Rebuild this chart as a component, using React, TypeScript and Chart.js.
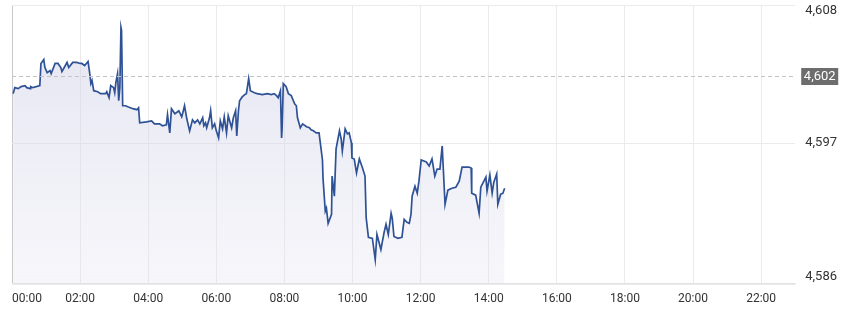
import React, { useEffect, useRef } from "react";
import { Chart, registerables } from "chart.js";

Chart.register(...registerables);

// Intraday index level, minutes after 00:00
const minutes = [
  2, 5, 11, 16, 23, 26, 32, 33, 37, 49,
  51, 56, 58, 62, 67, 69, 76, 81, 86, 88,
  93, 97, 100, 107, 114, 120, 123, 128, 134, 137,
  139, 141, 144, 151, 156, 165, 167, 171, 174, 179,
  181, 183, 186, 188, 190, 192, 193, 195, 200, 204,
  213, 220,
  223, 225, 237, 246, 251, 260, 265, 272, 274, 278,
  281, 287, 294, 299, 301, 304, 308, 313, 318, 322,
  327, 331, 336, 338, 341, 343, 348, 350, 353, 357,
  360, 364, 367, 371, 374, 378, 381, 387, 390, 394,
  396, 399, 401, 406, 410, 413, 417, 420, 427, 432,
  441, 450, 457, 462, 466, 469, 473, 475, 476, 478,
  483, 487, 492, 498, 501, 503, 508, 512, 519, 524,
  527, 531, 536, 541, 547, 548, 552, 554, 557, 563,
  564, 568, 571, 577, 580, 582, 587, 591, 594, 598,
  599, 603, 607, 612, 617, 622, 624, 628,
  635, 640, 643, 650, 656, 659, 663, 668, 670, 673,
  680, 687, 691, 696, 700, 703, 705, 710, 714, 717,
  721, 730, 735, 740, 745, 749, 754, 758, 763, 768,
  775, 782, 788, 793, 805, 809, 810, 817, 823, 826,
  835, 837, 842, 846, 849, 854, 856, 861, 865, 868,
];

const prices = [
  4600.87, 4601.34, 4601.26, 4601.42, 4601.5, 4601.34, 4601.26, 4601.42, 4601.34, 4601.5,
  4603.25, 4603.56, 4602.93, 4602.53, 4602.69, 4602.45, 4603.25, 4603.25, 4602.93, 4602.61,
  4603.01, 4603.33, 4602.93, 4603.33, 4603.33, 4603.25, 4603.25, 4603.09, 4603.41, 4602.45,
  4601.66, 4601.9, 4601.1, 4601.02, 4600.87, 4600.87, 4601.02, 4600.55, 4601.5, 4601.34,
  4600.94, 4601.74, 4602.45, 4600.31, 4601.34, 4606.1, 4605.87, 4599.91, 4599.91, 4599.83,
  4599.68, 4599.6,
  4599.75, 4598.56, 4598.64, 4598.72, 4598.48, 4598.48, 4598.33, 4598.4, 4599.2, 4597.77,
  4599.68, 4599.28, 4599.52, 4599.04, 4599.36, 4599.91, 4598.88, 4597.93, 4598.8, 4598.56,
  4598.8, 4598.48, 4598.96, 4598.33, 4598.56, 4598.17, 4598.96, 4599.52, 4598.17, 4598.48,
  4597.93, 4597.37, 4598.72, 4598.09, 4599.04, 4597.77, 4599.12, 4598.17, 4598.96, 4599.52,
  4597.53, 4599.52, 4600.31, 4600.63, 4600.79, 4600.87, 4602.06, 4601.1, 4600.94, 4600.87,
  4600.79, 4600.87, 4600.79, 4600.87, 4600.71, 4600.55, 4601.1, 4597.37, 4598.17, 4601.66,
  4601.42, 4600.87, 4600.71, 4600.07, 4599.91, 4598.96, 4598.17, 4598.48, 4598.25, 4598.17,
  4598.01, 4597.93, 4597.77, 4597.77, 4595.63, 4594.2, 4591.58, 4591.82, 4590.63, 4591.34,
  4594.36, 4592.77, 4596.5, 4597.93, 4597.29, 4596.34, 4598.09, 4597.69, 4597.77, 4596.98,
  4595.79, 4595.71, 4594.6, 4595.71, 4595.07, 4594.36, 4591.1, 4589.52,
  4589.44, 4587.77, 4589.75, 4588.56, 4589.99, 4590.55, 4589.75, 4591.42, 4591.02, 4589.59,
  4589.44, 4589.52, 4590.94, 4590.71, 4590.63, 4591.34, 4592.77, 4593.56, 4593.01, 4593.96,
  4595.63, 4595.47, 4595.15, 4595.71, 4594.36, 4594.91, 4594.91, 4596.74, 4592.13, 4593.25,
  4593.4, 4593.48, 4593.96, 4595.07, 4595.07, 4594.99, 4593.01, 4592.85, 4591.42, 4593.48,
  4594.28, 4593.17, 4594.44, 4593.01, 4593.88, 4594.52, 4592.13, 4592.93, 4593.01, 4593.4,
];

const xTickMinutes = [0, 120, 240, 360, 480, 600, 720, 840, 960, 1080, 1200, 1320];
const xTickLabels = ["00:00", "02:00", "04:00", "06:00", "08:00", "10:00", "12:00", "14:00", "16:00", "18:00", "20:00", "22:00"];
const xMax = 1380;

const yMin = 4585.87;
const yMax = 4607.85;
const yGridValues = [yMin, 4597, yMax];
const yTickValues = [4586.45, 4597, 4607.4];
const yTickLabels = ["4,586", "4,597", "4,608"];

const prevClose = 4602.29;
const prevCloseLabel = "4,602";

const FONT = "Roboto";

const overlayPlugin = {
  id: "overlay",
  beforeDatasetsDraw(chart: any) {
    const { ctx, chartArea: a, scales } = chart;
    const y = scales.y;
    ctx.save();
    ctx.strokeStyle = "#ebebeb";
    ctx.lineWidth = 1;
    yGridValues.forEach((v) => {
      const py = Math.round(y.getPixelForValue(v)) + 0.5;
      ctx.beginPath();
      ctx.moveTo(a.left, py);
      ctx.lineTo(a.right, py);
      ctx.stroke();
    });
    ctx.restore();
  },
  afterDatasetsDraw(chart: any) {
    const { ctx, chartArea: a, scales } = chart;
    const py = Math.round(scales.y.getPixelForValue(prevClose)) + 0.5;
    ctx.save();
    ctx.strokeStyle = "#c4c4c4";
    ctx.lineWidth = 1;
    ctx.setLineDash([4, 3]);
    ctx.beginPath();
    ctx.moveTo(a.left, py);
    ctx.lineTo(a.right, py);
    ctx.stroke();
    ctx.setLineDash([]);
    const bx = a.right + 6;
    const bw = 37;
    const bh = 17;
    ctx.fillStyle = "#6d6d6d";
    ctx.fillRect(bx, py - bh / 2, bw, bh);
    ctx.fillStyle = "#ffffff";
    ctx.font = `13px ${FONT}`;
    ctx.textAlign = "center";
    ctx.textBaseline = "middle";
    ctx.fillText(prevCloseLabel, bx + bw / 2, py + 0.5);
    ctx.restore();
  },
};

export default function App() {
  const ref = useRef<HTMLCanvasElement | null>(null);

  useEffect(() => {
    if (!ref.current) return;
    const chart = new Chart(ref.current, {
      type: "line",
      data: {
        datasets: [
          {
            data: minutes.map((m, i) => ({ x: m, y: prices[i] })),
            borderColor: "#2e5295",
            borderWidth: 1.7,
            pointRadius: 0,
            tension: 0,
            fill: "start",
            backgroundColor: (c: any) => {
              const area = c.chart.chartArea;
              if (!area) return "rgba(215,215,235,0.45)";
              const g = c.chart.ctx.createLinearGradient(0, area.top, 0, area.bottom);
              g.addColorStop(0, "rgba(205,205,230,0.55)");
              g.addColorStop(1, "rgba(225,225,240,0.3)");
              return g;
            },
          },
        ],
      },
      options: {
        animation: false,
        responsive: true,
        maintainAspectRatio: false,
        layout: { padding: { left: 12, top: 5, right: 12, bottom: 1 } },
        plugins: { legend: { display: false }, tooltip: { enabled: false } },
        scales: {
          x: {
            type: "linear",
            min: 0,
            max: xMax,
            afterBuildTicks: (s: any) => {
              s.ticks = [...xTickMinutes, xMax].map((v) => ({ value: v }));
            },
            ticks: {
              autoSkip: false,
              maxRotation: 0,
              align: "inner",
              padding: 8,
              color: "#333",
              font: { family: FONT, size: 12 },
              callback: (_v: any, i: number) => xTickLabels[i] ?? "",
            },
            grid: {
              drawTicks: false,
              color: (c: any) =>
                c.index === 0 ? "#c8c8c8" : c.index >= xTickLabels.length ? "rgba(0,0,0,0)" : "#ebebeb",
            },
            border: { display: true, color: "#e2e2e2" },
          },
          y: {
            position: "right",
            min: yMin,
            max: yMax,
            afterBuildTicks: (s: any) => {
              s.ticks = yTickValues.map((v) => ({ value: v }));
            },
            ticks: {
              padding: 0,
              color: "#333",
              font: { family: FONT, size: 13, lineHeight: 0.8 },
              callback: (_v: any, i: number) => yTickLabels[i],
            },
            grid: {
              display: true,
              drawOnChartArea: false,
              drawTicks: true,
              tickLength: 10,
              tickColor: "rgba(0,0,0,0)",
            },
            border: { display: false },
          },
        },
      },
      plugins: [overlayPlugin],
    });
    return () => chart.destroy();
  }, []);

  return (
    <div style={{ position: "fixed", left: 0, top: 0, width: 849, height: 315, background: "#fff" }}>
      <canvas ref={ref} />
    </div>
  );
}
